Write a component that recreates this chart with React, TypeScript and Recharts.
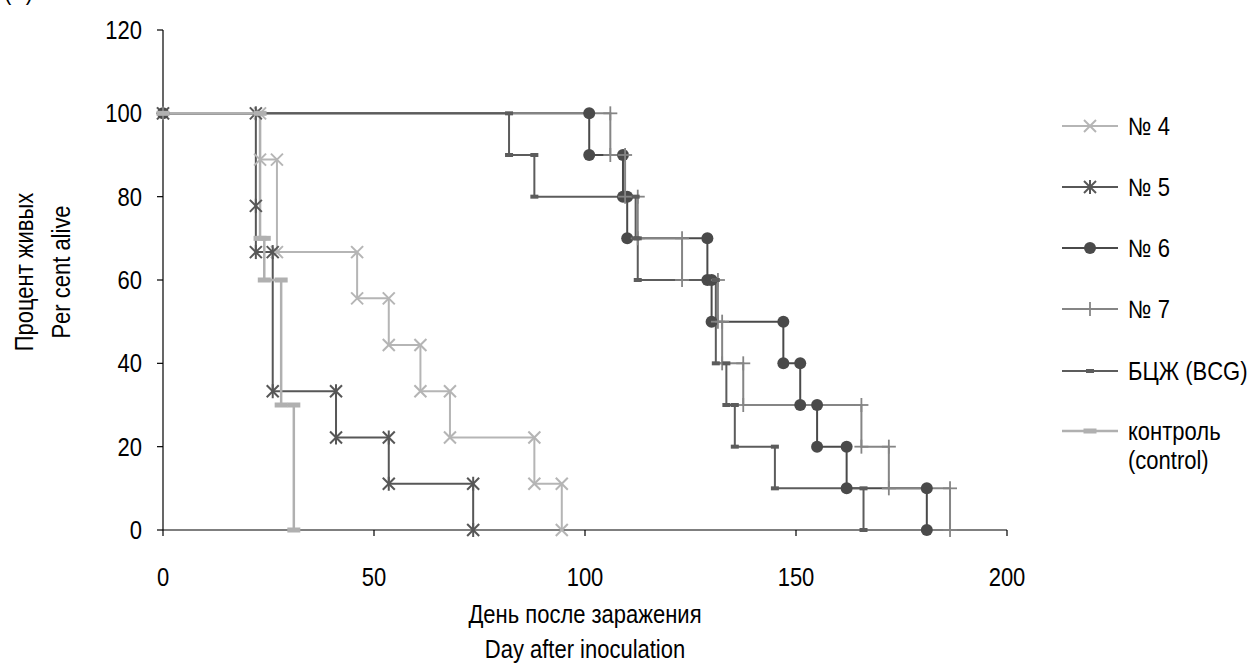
import { LineChart, Line, XAxis, YAxis, Legend, Label } from 'recharts';

// Kaplan–Meier step points: each death gives two points (before / after the drop)
const n4Days = [0, 23, 23, 27, 27, 46, 46, 53.5, 53.5, 61, 61, 68, 68, 88, 88, 94.5, 94.5];
const n4Alive = [100, 100, 88.9, 88.9, 66.7, 66.7, 55.6, 55.6, 44.4, 44.4, 33.3, 33.3, 22.2, 22.2, 11.1, 11.1, 0];

const n5Days = [0, 22, 22, 22, 26, 26, 41, 41, 53.5, 53.5, 73.5, 73.5];
const n5Alive = [100, 100, 77.8, 66.7, 66.7, 33.3, 33.3, 22.2, 22.2, 11.1, 11.1, 0];

const n6Days = [0, 101, 101, 109, 109, 110, 110, 129, 129, 130, 130, 147, 147, 151, 151, 155, 155, 162, 162, 181, 181];
const n6Alive = [100, 100, 90, 90, 80, 80, 70, 70, 60, 60, 50, 50, 40, 40, 30, 30, 20, 20, 10, 10, 0];

const n7Days = [0, 106, 106, 109.5, 109.5, 112.5, 112.5, 123, 123, 131.5, 131.5, 132.5, 132.5, 137.5, 137.5, 165.5, 165.5, 172, 172, 186.5, 186.5];
const n7Alive = [100, 100, 90, 90, 80, 80, 70, 70, 60, 60, 50, 50, 40, 40, 30, 30, 20, 20, 10, 10, 0];

const bcgDays = [0, 82, 82, 88, 88, 112, 112, 112.5, 112.5, 131, 131, 133.5, 133.5, 135.5, 135.5, 145, 145, 166, 166];
const bcgAlive = [100, 100, 90, 90, 80, 80, 70, 70, 60, 60, 40, 40, 30, 30, 20, 20, 10, 10, 0];

const ctrlDays = [0, 23, 23, 24, 24, 28, 28, 31, 31];
const ctrlAlive = [100, 100, 70, 70, 60, 60, 30, 30, 0];

const xTicks = [0, 50, 100, 150, 200];
const yTicks = [0, 20, 40, 60, 80, 100, 120];

// narrow fonts are not installed, so regular Liberation Sans is squeezed horizontally
const FONT = '"Liberation Sans", Arial, sans-serif';
const FS = 25;
const SQ = 0.88;

type Kind = 'cross' | 'star' | 'dot' | 'plus' | 'dash' | 'bar';

function Marker({ kind, x, y, color }: { kind: Kind; x: number; y: number; color: string }) {
  const h = 6;
  if (kind === 'cross')
    return (
      <g stroke={color} strokeWidth={2}>
        <line x1={x - h} y1={y - h} x2={x + h} y2={y + h} />
        <line x1={x - h} y1={y + h} x2={x + h} y2={y - h} />
      </g>
    );
  if (kind === 'star')
    return (
      <g stroke={color} strokeWidth={2}>
        <line x1={x - h} y1={y - h} x2={x + h} y2={y + h} />
        <line x1={x - h} y1={y + h} x2={x + h} y2={y - h} />
        <line x1={x} y1={y - h - 1} x2={x} y2={y + h + 1} />
      </g>
    );
  if (kind === 'dot') return <circle cx={x} cy={y} r={6} fill={color} />;
  if (kind === 'plus')
    return (
      <g stroke={color} strokeWidth={1.8}>
        <line x1={x - 7} y1={y} x2={x + 7} y2={y} />
        <line x1={x} y1={y - 7} x2={x} y2={y + 7} />
      </g>
    );
  if (kind === 'dash') return <rect x={x - 4} y={y - 2} width={8} height={4} fill={color} />;
  return <rect x={x - 6.5} y={y - 2.5} width={13} height={5} fill={color} />;
}

const series = [
  { key: 'n4', name: '№ 4', days: n4Days, alive: n4Alive, color: '#b5b5b5', kind: 'cross' as Kind, width: 2 },
  { key: 'n5', name: '№ 5', days: n5Days, alive: n5Alive, color: '#575757', kind: 'star' as Kind, width: 2 },
  { key: 'n6', name: '№ 6', days: n6Days, alive: n6Alive, color: '#4a4a4a', kind: 'dot' as Kind, width: 2 },
  { key: 'n7', name: '№ 7', days: n7Days, alive: n7Alive, color: '#858585', kind: 'plus' as Kind, width: 2 },
  { key: 'bcg', name: 'БЦЖ (BCG)', days: bcgDays, alive: bcgAlive, color: '#5c5c5c', kind: 'dash' as Kind, width: 2 },
  { key: 'ctrl', name: 'контроль\n(control)', days: ctrlDays, alive: ctrlAlive, color: '#b0b0b0', kind: 'bar' as Kind, width: 2.5 },
];

const legendRows = [126, 187, 248, 309, 371, 431];

function LegendBox() {
  return (
    <div style={{ position: 'relative', width: 192, height: 380, fontFamily: FONT, fontSize: FS, color: '#000' }}>
      {series.map((s, i) => {
        const top = legendRows[i] - 100;
        const lines = s.name.split('\n');
        return (
          <div key={s.key}>
            <svg width={60} height={20} style={{ position: 'absolute', left: 6, top: top - 10 }}>
              <line x1={1} y1={10} x2={57} y2={10} stroke={s.color} strokeWidth={s.width} />
              <Marker kind={s.kind} x={29} y={10} color={s.color} />
            </svg>
            {lines.map((t, j) => (
              <div
                key={j}
                style={{
                  position: 'absolute',
                  left: 73,
                  top: top - 15 + j * 29,
                  lineHeight: '30px',
                  whiteSpace: 'nowrap',
                  transform: `scaleX(${SQ})`,
                  transformOrigin: 'left center',
                }}
              >
                {t}
              </div>
            ))}
          </div>
        );
      })}
    </div>
  );
}

function SqText({ x, y, anchor, dy, rotate, children }: any) {
  const tr = `translate(${x},${y})${rotate ? ` rotate(${rotate})` : ''} scale(${SQ},1)`;
  return (
    <text x={0} y={0} dy={dy} transform={tr} textAnchor={anchor} fontFamily={FONT} fontSize={FS} fill="#000">
      {children}
    </text>
  );
}

function XTick(props: any) {
  return (
    <SqText x={props.x} y={props.y} anchor="middle" dy="0.71em">
      {props.payload.value}
    </SqText>
  );
}

function YTick(props: any) {
  return (
    <SqText x={props.x} y={props.y} anchor="end" dy="0.355em">
      {props.payload.value}
    </SqText>
  );
}

function XTitle(props: any) {
  const vb = props.viewBox;
  const cx = vb.x + vb.width / 2;
  return (
    <g>
      <SqText x={cx} y={vb.y + 93} anchor="middle">День после заражения</SqText>
      <SqText x={cx} y={vb.y + 128} anchor="middle">Day after inoculation</SqText>
    </g>
  );
}

function YTitle() {
  return (
    <g>
      <SqText x={33} y={272} anchor="middle" rotate={-90}>Процент живых</SqText>
      <SqText x={70} y={272} anchor="middle" rotate={-90}>Per cent alive</SqText>
    </g>
  );
}

export default function App() {
  return (
    <div style={{ position: 'relative', width: 1247, height: 664, background: '#fff', overflow: 'hidden' }}>
      <style>{'body{margin:0}'}</style>
      <div
        style={{
          position: 'absolute',
          left: 4,
          top: -24,
          fontFamily: FONT,
          fontSize: FS,
          lineHeight: '30px',
          transform: `scaleX(${SQ})`,
          transformOrigin: 'left center',
        }}
      >
        (Б)
      </div>
      <LineChart width={1247} height={664} margin={{ top: 30, right: 240, bottom: 94, left: 103 }}>
        <XAxis
          type="number"
          dataKey="day"
          domain={[0, 200]}
          ticks={xTicks}
          allowDuplicatedCategory={false}
          stroke="#000"
          strokeWidth={1.2}
          tickSize={6}
          tickMargin={32}
          tick={XTick}
          height={40}
        >
          <Label content={XTitle} />
        </XAxis>
        <YAxis
          type="number"
          dataKey="alive"
          domain={[0, 120]}
          ticks={yTicks}
          stroke="#000"
          strokeWidth={1.2}
          tickSize={6}
          tickMargin={15}
          tick={YTick}
          width={60}
        >
          <Label content={YTitle} />
        </YAxis>
        {series.map((s) => (
          <Line
            key={s.key}
            data={s.days.map((d, i) => ({ day: d, alive: s.alive[i] }))}
            dataKey="alive"
            name={s.name}
            type="linear"
            stroke={s.color}
            strokeWidth={s.width}
            isAnimationActive={false}
            dot={(p: any) => <Marker key={`${s.key}-${p.index}`} kind={s.kind} x={p.cx} y={p.cy} color={s.color} />}
            activeDot={false}
          />
        ))}
        <Legend
          layout="vertical"
          align="center"
          verticalAlign="middle"
          wrapperStyle={{ left: 1055, top: 100, width: 192 }}
          content={() => <LegendBox />}
        />
      </LineChart>
    </div>
  );
}
